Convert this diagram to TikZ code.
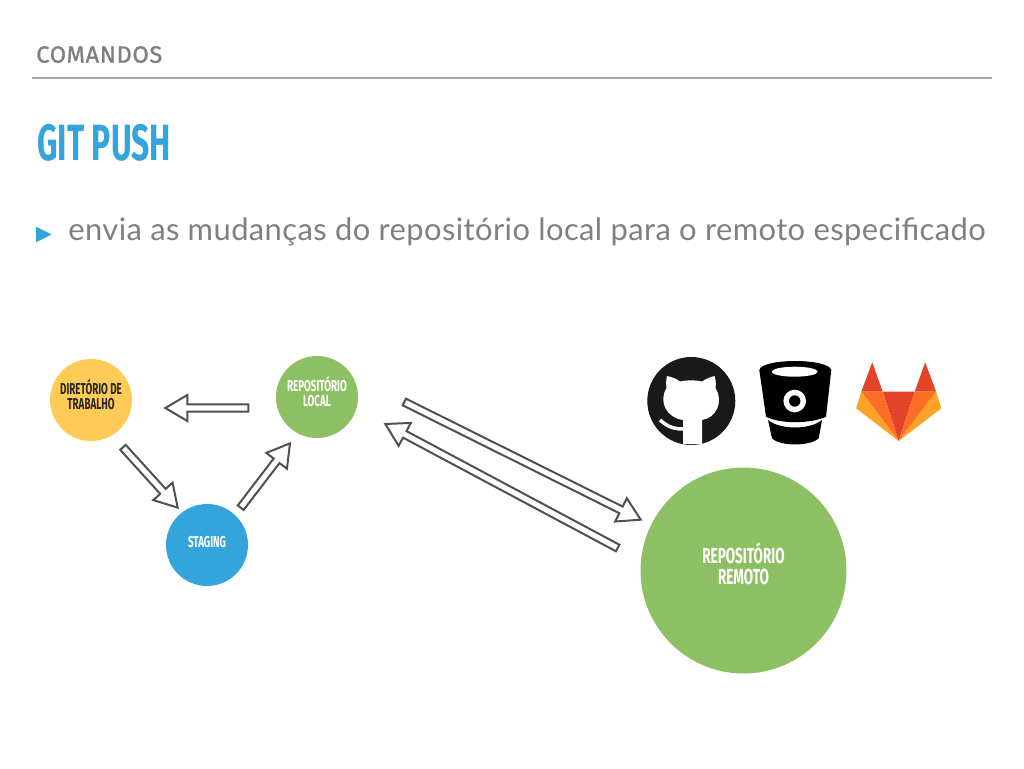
\documentclass[tikz,border=0pt]{standalone}
\usepackage{fontspec}
\usetikzlibrary{calc}
\setmainfont[LetterSpace=1.3]{Lato}
\newfontfamily\dinfont[FakeStretch=0.62]{Fira Sans}
\newfontfamily\dintitulo[FakeStretch=0.625]{Fira Sans}
\newfontfamily\dinlargo[FakeBold=1.2,LetterSpace=3]{Fira Sans}
\definecolor{cinza}{HTML}{7F7F7F}
\definecolor{linha}{HTML}{A6A6A6}
\definecolor{azul}{HTML}{33A4DC}
\definecolor{amarelo}{HTML}{FFCB57}
\definecolor{verde}{HTML}{8DBF63}
\definecolor{contorno}{HTML}{505050}
\definecolor{labEscuro}{HTML}{E24329}
\definecolor{labMedio}{HTML}{FC6D26}
\definecolor{labClaro}{HTML}{FCA326}

\begin{document}
\begin{tikzpicture}[
    x=0.02cm,
    y=-0.02cm,
    circulo/.style={circle, inner sep=0pt, minimum size=1.64cm, align=center, text depth=6.5pt},
    rotulo/.style={font=\dinfont\bfseries\fontsize{9}{8.6}\selectfont},
    seta/.style={draw=contorno, line width=0.04cm, miter limit=10,
        to path={let \p1=($(\tikztotarget)!0.44cm!(\tikztostart)$) in
            ($(\tikztostart)!0.074cm!90:(\tikztotarget)$)
            -- ($(\p1)!0.074cm!90:(\tikztotarget)$)
            -- ($(\p1)!0.26cm!90:(\tikztotarget)$)
            -- (\tikztotarget)
            -- ($(\p1)!0.26cm!-90:(\tikztotarget)$)
            -- ($(\p1)!0.074cm!-90:(\tikztotarget)$)
            -- ($(\tikztostart)!0.074cm!-90:(\tikztotarget)$)
            -- cycle}}
]
\useasboundingbox (0,0) rectangle (1024,768);

% Cabecalho
\node[anchor=base west, inner sep=0pt, text=cinza, font=\dinlargo\fontsize{13.4}{14}\selectfont] (secao) at (36,62.7) {COMANDOS};
\draw[linha, line width=0.04cm] (32,78) -- (992,78);
\node[anchor=base west, inner sep=0pt, text=azul, font=\dintitulo\bfseries\fontsize{29}{30}\selectfont] (titulo) at (37,160) {GIT PUSH};
\fill[azul] (36,226.7) -- (51.7,234.5) -- (36,242.3) -- cycle;
\node[anchor=base west, inner sep=0pt, text=cinza, font=\fontsize{17.6}{20}\selectfont] (texto) at (68,240)
    {envia as mudanças do repositório local para o remoto especificado};

% Estados
\node[circulo, rotulo, fill=amarelo, text=black!85] (diretorio) at (91,400) {DIRETÓRIO DE\\TRABALHO};
\node[circulo, rotulo, fill=verde, text=white] (local) at (317,397) {REPOSITÓRIO\\LOCAL};
\node[circulo, rotulo, fill=azul, text=white, text depth=3.5pt] (staging) at (207,545) {STAGING};
\node[circulo, fill=verde, text=white, minimum size=4.12cm, text depth=8pt,
    font=\dinfont\bfseries\fontsize{12.4}{12.2}\selectfont] (remoto) at (743.5,570.5) {REPOSITÓRIO\\REMOTO};

% Setas
\draw[seta] ([shift={(-27.3,11)}]local.west) to ([shift={(33,8)}]diretorio.east);
\draw[seta] ([shift={(32,6)}]diretorio.south) to ([shift={(-29.3,4)}]staging.north);
\draw[seta] ([shift={(33.7,4)}]staging.north) to ([shift={(-27,5)}]local.south);
\draw[seta] ([shift={(46,5)}]local.east) to ([shift={(-102.8,52.5)}]remoto.north);
\draw[seta] ([shift={(-22.5,-22.5)}]remoto.west) to ([shift={(27,27)}]local.east);

% GitHub
\fill[black!90] (691.3,401) circle (44);
\fill[white] (667,376) .. controls (672,377) and (677,379) .. (680,381.5)
    .. controls (686,380) and (696,380) .. (702,381.5)
    .. controls (706,379) and (710,377) .. (714.5,376)
    .. controls (716,380) and (716,385) .. (715.5,388)
    .. controls (724,402) and (716,418) .. (702,420)
    -- (702,444) -- (683,444) -- (683,420)
    .. controls (667,418) and (658,402) .. (666.5,388)
    .. controls (666,384) and (666,380) .. (667,376) -- cycle;
\draw[white, line width=0.07cm] (660,420) .. controls (665,424) and (670,429) .. (683,429);

% Bitbucket
\fill[black] (759.3,370) .. controls (762,358) and (828,358) .. (831.3,370)
    -- (826,416.7) .. controls (810,424) and (780,424) .. (766,416.7) -- cycle;
\fill[white] (794.7,371.7) ellipse (23 and 5);
\fill[white] (794.7,401) circle (11.3);
\fill[black] (794.7,401) circle (5.7);
\fill[black] (768,420) .. controls (780,430) and (810,430) .. (822,420)
    -- (818.7,438.3) .. controls (810,446.5) and (780,446.5) .. (772,438.3) -- cycle;

% GitLab
\fill[labEscuro] (882.7,391.7) -- (914.7,391.7) -- (898.7,441) -- cycle;
\foreach \lado in {-1,1}
{
    \fill[labEscuro] ({898.7+\lado*26.5},362.3) -- ({898.7+\lado*37.4},391.7) -- ({898.7+\lado*16},391.7) -- cycle;
    \fill[labMedio] ({898.7+\lado*37.4},391.7) -- ({898.7+\lado*16},391.7) -- (898.7,441) -- cycle;
    \fill[labClaro] ({898.7+\lado*37.4},391.7) -- ({898.7+\lado*42.6},408.3) -- (898.7,441) -- cycle;
}

\end{tikzpicture}
\end{document}
